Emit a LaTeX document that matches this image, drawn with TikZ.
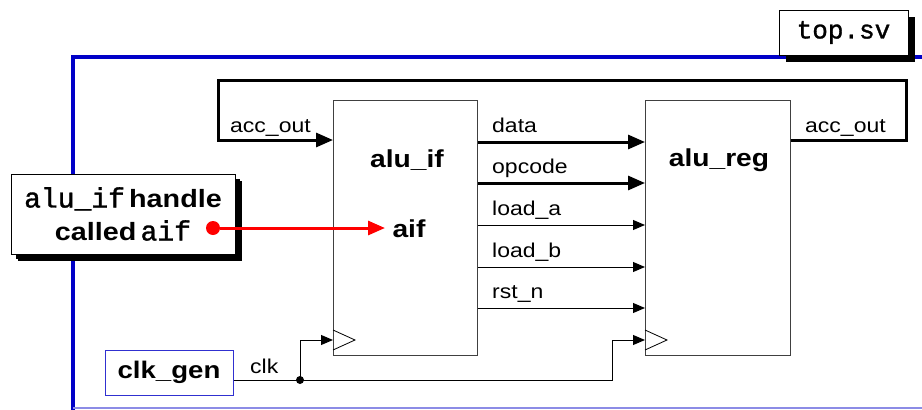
\documentclass[tikz,border=0pt]{standalone}
\usepackage{fontspec}
\setmainfont{Liberation Sans}[FakeStretch=1.15]
\newfontfamily\codefont{Liberation Mono}[FakeBold=1.2]
\usetikzlibrary{arrows.meta, shadows, positioning, calc}
\definecolor{frameblue}{HTML}{0000C8}
\definecolor{genblue}{HTML}{3030D0}
\definecolor{handlered}{HTML}{FF0000}

\tikzset{
  modbox/.style={draw=black!75, line width=0.9pt, fill=white, inner sep=0pt, anchor=north west},
  modtitle/.style={font=\fontsize{24.5}{28}\selectfont\bfseries},
  siglabel/.style={font=\fontsize{20}{24}\selectfont, anchor=base west, inner sep=0pt},
  busline/.style={line width=3pt, -{Triangle[length=17pt,width=14pt]}},
  wireline/.style={line width=1pt, -{Triangle[length=12pt,width=10pt]}},
  shadowbox/.style={draw=black, line width=1pt, fill=white,
    drop shadow={shadow xshift=7pt, shadow yshift=-7pt, opacity=1, fill=black}}
}

\begin{document}
\begin{tikzpicture}[x=1pt, y=-1pt]
  \useasboundingbox (0,0) rectangle (922,410);

  % Cadre du module top
  \draw[frameblue, line width=4pt] (73,412) -- (73,57) -- (924,57);
  \draw[frameblue!45, line width=1.5pt] (73,408) -- (922,408);
  \node[shadowbox, minimum width=129pt, minimum height=45pt,
        font=\fontsize{26}{28}\selectfont\codefont] (topsv) at (843.5,32.5) {top.sv};

  % Modules
  \node[modbox, minimum width=144pt, minimum height=255pt] (aluif) at (333,100) {};
  \node[modbox, minimum width=145pt, minimum height=255pt] (alureg) at (645,100) {};
  \node[modtitle] (aliftitle) at (407,160) {alu\_if};
  \node[modtitle] (alregtitle) at (719,160) {alu\_reg};
  \node[modtitle] (aifport) at (409,229) {aif};

  % Boucle acc_out
  \coordinate (loopr) at (906,80);
  \coordinate (loopl) at (218,80);
  \draw[busline] (alureg.east |- 0,140) -| (loopr) -- (loopl) |- (aluif.west |- 0,140);
  \node[siglabel] (accin) at (230,132) {acc\_out};
  \node[siglabel] (accout) at (805,132) {acc\_out};

  % Signaux entre alu_if et alu_reg
  \draw[busline] (aluif.east |- 0,142) -- (alureg.west |- 0,142);
  \node[siglabel] (datalbl) at (492,132) {data};
  \draw[busline] (aluif.east |- 0,183) -- (alureg.west |- 0,183);
  \node[siglabel] (oplbl) at (492,173) {opcode};
  \draw[wireline] (aluif.east |- 0,225) -- (alureg.west |- 0,225);
  \node[siglabel] (ldalbl) at (492,215) {load\_a};
  \draw[wireline] (aluif.east |- 0,267) -- (alureg.west |- 0,267);
  \node[siglabel] (ldblbl) at (492,257) {load\_b};
  \draw[wireline] (aluif.east |- 0,308) -- (alureg.west |- 0,308);
  \node[siglabel] (rstlbl) at (492,298) {rst\_n};

  % Triangles d'horloge
  \draw[line width=0.8pt] (aluif.west |- 0,330) -- (355,340) -- (aluif.west |- 0,350);
  \draw[line width=0.8pt] (alureg.west |- 0,330) -- (667,340) -- (alureg.west |- 0,350);

  % Handle
  \node[shadowbox, minimum width=224pt, minimum height=80pt, align=center,
        font=\fontsize{25}{33}\selectfont\bfseries, drop shadow={shadow xshift=5pt, shadow yshift=-5pt, opacity=1, fill=black}]
        (handle) at (123,214) {{\mdseries\fontsize{28}{33}\selectfont\codefont alu\_if}\,handle\\called\,{\mdseries\fontsize{28}{33}\selectfont\codefont aif}};
  \node[circle, fill=handlered, inner sep=0pt, minimum size=14pt] (hdot) at (213,228) {};
  \draw[handlered, line width=3pt, -{Triangle[length=17pt,width=14pt]}] (hdot) -- (385,228);

  % Horloge
  \node[draw=genblue, line width=1pt, minimum width=128pt, minimum height=45pt,
        font=\fontsize{24}{28}\selectfont\bfseries] (clkgen) at (169,372.5) {clk\_gen};
  \coordinate (clkjn) at (300,380);
  \draw[line width=1pt] (clkgen.east |- clkjn) -- (clkjn);
  \fill (clkjn) circle (4pt);
  \draw[wireline] (clkjn) |- (aluif.west |- 0,340);
  \draw[wireline] (clkjn) -- (612,380) |- (alureg.west |- 0,340);
  \node[siglabel] (clklbl) at (250,373) {clk};
\end{tikzpicture}
\end{document}
